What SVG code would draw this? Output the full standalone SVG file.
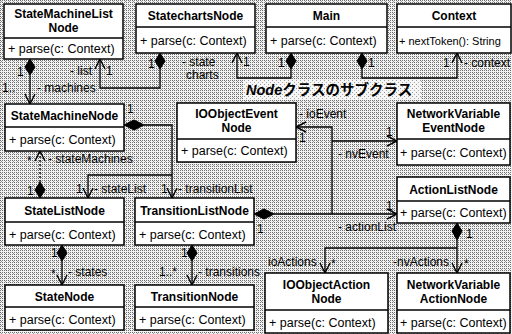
<svg xmlns="http://www.w3.org/2000/svg" width="512" height="334" viewBox="0 0 512 334">
<defs>
<pattern id="ht" width="4" height="4" patternUnits="userSpaceOnUse">
<rect width="4" height="4" fill="#f2f2f2"/>
<rect x="0" y="0" width="1" height="1" fill="#666"/>
<rect x="2" y="2" width="1" height="1" fill="#666"/>
<rect x="2" y="0" width="1" height="1" fill="#777"/>
<rect x="0" y="2" width="1" height="1" fill="#777"/>
<rect x="1" y="1" width="1" height="1" fill="#999"/>
</pattern>
<pattern id="ht2" width="4" height="4" patternUnits="userSpaceOnUse">
<rect width="4" height="4" fill="#f6f6f6"/>
<rect x="0" y="0" width="1" height="1" fill="#999"/>
<rect x="2" y="2" width="1" height="1" fill="#aaa"/>
</pattern>
<marker id="open" viewBox="0 0 12 12" refX="11" refY="6" markerWidth="12" markerHeight="12" markerUnits="userSpaceOnUse" orient="auto">
<path d="M1,1 L11,6 L1,11" fill="none" stroke="#000" stroke-width="1.4"/>
</marker>
</defs>
<style>
.box{fill:#fff;stroke:#000;stroke-width:1.5}
.div{stroke:#000;stroke-width:1.5}
.t{font-family:"Liberation Sans",Arial,sans-serif;font-size:12px;font-weight:bold;text-anchor:middle;fill:#000}
.m{font-family:"Liberation Sans",Arial,sans-serif;font-size:12.5px;fill:#000}
.l{font-family:"Liberation Sans",Arial,sans-serif;font-size:12px;fill:#000}
.c{fill:none;stroke:#000;stroke-width:1.3}
.d{fill:#000;stroke:#000;stroke-width:1}
</style>
<rect width="512" height="334" fill="url(#ht)"/>
<rect x="243" y="80" width="178" height="20" fill="url(#ht2)"/>
<text x="246" y="95" font-family="Liberation Sans,'Noto Sans CJK JP',sans-serif" font-size="14.5" font-weight="bold"><tspan font-style="italic">Node</tspan>クラスのサブクラス</text>

<g id="connectors">
<polygon class="d" points="30,59 35,67 30,75 25,67"/>
<path class="c" d="M30,75 V104" marker-end="url(#open)"/>
<polygon class="d" points="160,53 165,61 160,69 155,61"/>
<path class="c" d="M160,69 V88 H100 V59" marker-end="url(#open)"/>
<polygon class="d" points="291,53 296,61 291,69 286,61"/>
<path class="c" d="M291,69 V78 H237 V53" marker-end="url(#open)"/>
<polygon class="d" points="362,53 367,61 362,69 357,61"/>
<path class="c" d="M362,69 V78 H457 V53" marker-end="url(#open)"/>
<path class="c" d="M40,182 V151" stroke-dasharray="2 2" marker-end="url(#open)"/>
<polygon class="d" points="40,182 45,190 40,198 35,190"/>
<polygon class="d" points="124,125 134,120 144,125 134,130"/>
<path class="c" d="M144,125 H172 V198" marker-end="url(#open)"/>
<path class="c" d="M172,175 H88 V198" marker-end="url(#open)"/>
<polygon class="d" points="62,245 67,253 62,261 57,253"/>
<path class="c" d="M62,261 V285" marker-end="url(#open)"/>
<polygon class="d" points="192,245 197,253 192,261 187,253"/>
<path class="c" d="M192,261 V285" marker-end="url(#open)"/>
<polygon class="d" points="254,214 264,209 274,214 264,219"/>
<path class="c" d="M274,214 H397" marker-end="url(#open)"/>
<path class="c" d="M332,214 V127 H296" marker-end="url(#open)"/>
<path class="c" d="M332,141 H397" marker-end="url(#open)"/>
<polygon class="d" points="457,223 462,231 457,240 452,231"/>
<path class="c" d="M457,240 V273" marker-end="url(#open)"/>
<path class="c" d="M457,248 H325 V273" marker-end="url(#open)"/>

<text class="l" x="17" y="76">1</text>
<text class="l" x="2" y="92">1..</text>
<text class="l" x="37" y="92">- machines</text>
<text class="l" x="148" y="68">1</text>
<text class="l" x="70" y="75">- list</text>
<text class="l" x="106" y="75">1</text>
<text class="l" x="278" y="67">1</text>
<text class="l" x="182" y="66">- state</text>
<text class="l" x="186" y="79">charts</text>
<text class="l" x="243" y="66">1</text>
<text class="l" x="368" y="67">1</text>
<text class="l" x="443" y="67">1</text>
<text class="l" x="464" y="67">- context</text>
<text class="l" x="27" y="165">*</text>
<text class="l" x="48" y="163">- stateMachines</text>
<text class="l" x="27" y="195">1</text>
<text class="l" x="127" y="113">1</text>
<text class="l" x="161" y="193">1</text>
<text class="l" x="178" y="193">- transitionList</text>
<text class="l" x="76" y="193">1</text>
<text class="l" x="94" y="193">- stateList</text>
<text class="l" x="51" y="257">1</text>
<text class="l" x="51" y="278">*</text>
<text class="l" x="68" y="276">- states</text>
<text class="l" x="181" y="257">1</text>
<text class="l" x="159" y="276">1..*</text>
<text class="l" x="198" y="276">- transitions</text>
<text class="l" x="257" y="233">1</text>
<text class="l" x="299" y="118">- ioEvent</text>
<text class="l" x="299" y="142">1</text>
<text class="l" x="338" y="158">- nvEvent</text>
<text class="l" x="386" y="136">1</text>
<text class="l" x="386" y="210">1</text>
<text class="l" x="338" y="231">- actionList</text>
<text class="l" x="466" y="238">1</text>
<text class="l" x="268" y="266">ioActions</text>
<text class="l" x="331" y="268">*</text>
<text class="l" x="393" y="266">-nvActions</text>
<text class="l" x="464" y="268">*</text>
</g>

<g id="StateMachineListNode">
<rect class="box" x="4" y="4" width="119" height="55"/>
<line class="div" x1="4" y1="38" x2="123" y2="38"/>
<text class="t" x="63.5" y="18">StateMachineList</text>
<text class="t" x="63.5" y="32">Node</text>
<text class="m" x="8" y="53">+ parse(c: Context)</text>
</g>
<g id="StatechartsNode">
<rect class="box" x="136" y="4" width="119" height="49"/>
<line class="div" x1="136" y1="27" x2="255" y2="27"/>
<text class="t" x="195.5" y="20">StatechartsNode</text>
<text class="m" x="140" y="45">+ parse(c: Context)</text>
</g>
<g id="Main">
<rect class="box" x="266" y="4" width="121" height="49"/>
<line class="div" x1="266" y1="27" x2="387" y2="27"/>
<text class="t" x="326.5" y="20">Main</text>
<text class="m" x="270" y="45">+ parse(c: Context)</text>
</g>
<g id="Context">
<rect class="box" x="397" y="4" width="114" height="49"/>
<line class="div" x1="397" y1="27" x2="511" y2="27"/>
<text class="t" x="454" y="20">Context</text>
<text class="m" x="399" y="45" style="font-size:11px">+ nextToken(): String</text>
</g>
<g id="StateMachineNode">
<rect class="box" x="5" y="104" width="119" height="47"/>
<line class="div" x1="5" y1="127" x2="124" y2="127"/>
<text class="t" x="64.5" y="120">StateMachineNode</text>
<text class="m" x="9" y="144">+ parse(c: Context)</text>
</g>
<g id="IOObjectEventNode">
<rect class="box" x="177" y="103" width="119" height="59"/>
<line class="div" x1="177" y1="139" x2="296" y2="139"/>
<text class="t" x="236.5" y="118">IOObjectEvent</text>
<text class="t" x="236.5" y="132">Node</text>
<text class="m" x="181" y="155">+ parse(c: Context)</text>
</g>
<g id="NetworkVariableEventNode">
<rect class="box" x="397" y="103" width="113" height="62"/>
<line class="div" x1="397" y1="139" x2="510" y2="139"/>
<text class="t" x="453.5" y="118">NetworkVariable</text>
<text class="t" x="453.5" y="132">EventNode</text>
<text class="m" x="400" y="157">+ parse(c: Context)</text>
</g>
<g id="StateListNode">
<rect class="box" x="5" y="198" width="119" height="47"/>
<line class="div" x1="5" y1="222" x2="124" y2="222"/>
<text class="t" x="64.5" y="215">StateListNode</text>
<text class="m" x="9" y="239">+ parse(c: Context)</text>
</g>
<g id="TransitionListNode">
<rect class="box" x="135" y="198" width="119" height="47"/>
<line class="div" x1="135" y1="222" x2="254" y2="222"/>
<text class="t" x="194.5" y="215">TransitionListNode</text>
<text class="m" x="139" y="239">+ parse(c: Context)</text>
</g>
<g id="ActionListNode">
<rect class="box" x="397" y="177" width="113" height="46"/>
<line class="div" x1="397" y1="201" x2="510" y2="201"/>
<text class="t" x="453.5" y="194">ActionListNode</text>
<text class="m" x="400" y="217">+ parse(c: Context)</text>
</g>
<g id="StateNode">
<rect class="box" x="5" y="285" width="119" height="45"/>
<line class="div" x1="5" y1="307" x2="124" y2="307"/>
<text class="t" x="64.5" y="301">StateNode</text>
<text class="m" x="9" y="324">+ parse(c: Context)</text>
</g>
<g id="TransitionNode">
<rect class="box" x="135" y="285" width="119" height="45"/>
<line class="div" x1="135" y1="307" x2="254" y2="307"/>
<text class="t" x="194.5" y="301">TransitionNode</text>
<text class="m" x="139" y="324">+ parse(c: Context)</text>
</g>
<g id="IOObjectActionNode">
<rect class="box" x="265" y="273" width="123" height="60"/>
<line class="div" x1="265" y1="310" x2="388" y2="310"/>
<text class="t" x="326.5" y="289">IOObjectAction</text>
<text class="t" x="326.5" y="303">Node</text>
<text class="m" x="269" y="327">+ parse(c: Context)</text>
</g>
<g id="NetworkVariableActionNode">
<rect class="box" x="397" y="273" width="113" height="60"/>
<line class="div" x1="397" y1="310" x2="510" y2="310"/>
<text class="t" x="453.5" y="289">NetworkVariable</text>
<text class="t" x="453.5" y="303">ActionNode</text>
<text class="m" x="400" y="327">+ parse(c: Context)</text>
</g>
</svg>
